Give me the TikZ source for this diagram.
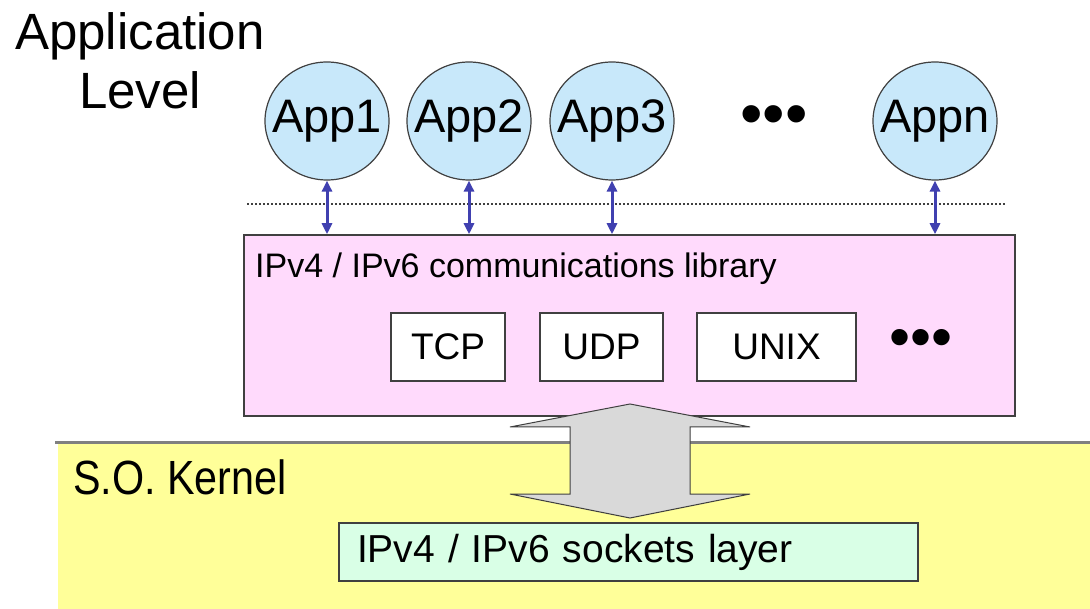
\documentclass[tikz,border=0pt]{standalone}
\usepackage{fontspec}
\usepackage{graphicx}
\setmainfont{Liberation Sans}
\usetikzlibrary{arrows.meta,shapes.geometric,calc}
\definecolor{appblue}{RGB}{200,232,250}
\definecolor{libpink}{RGB}{255,218,252}
\definecolor{kernyellow}{RGB}{255,255,153}
\definecolor{sockmint}{RGB}{217,255,230}
\definecolor{arrowgray}{RGB}{217,217,217}
\definecolor{linkblue}{RGB}{64,64,176}
\definecolor{edgegray}{RGB}{64,64,64}
\definecolor{sepgray}{RGB}{128,128,128}
\newcommand{\fsz}[1]{\fontsize{#1}{#1}\selectfont}
\begin{document}
\begin{tikzpicture}[x=1pt,y=-1pt,
  app/.style={ellipse, draw=edgegray, line width=1.2pt, fill=appblue,
    minimum width=124pt, minimum height=118pt, inner xsep=-13pt, inner ysep=0pt,
    font=\fsz{47}},
  protobox/.style={draw=edgegray, line width=1.5pt, fill=white,
    minimum height=68pt, inner sep=0pt, font=\fsz{37}},
  link/.style={linkblue, line width=3pt,
    {Triangle[length=11pt,width=10pt]}-{Triangle[length=11pt,width=10pt]}},
  plain/.style={inner sep=0pt},
  bigarrow/.style={draw=edgegray, line width=1pt, fill=arrowgray, line join=miter}
]
\useasboundingbox (0,0) rectangle (1090,609);
\fill[white] (0,0) rectangle (1090,609);

% kernel band
\fill[kernyellow] (58,443) rectangle (1090,609);
\draw[sepgray, line width=3pt] (55,443) -- (1090,443);

% application level labels
\node[plain, anchor=base, font=\fsz{51}] (applab) at (140,50) {Application};
\node[plain, anchor=base, font=\fsz{51}] (levlab) at (140,109) {Level};

% applications
\node[app] (a1) at (327,121) {App1};
\node[app] (a2) at (469,121) {App2};
\node[app] (a3) at (612,121) {App3};
\node[app] (an) at (935,121) {Appn};
\node[plain, font=\fsz{64}] (dotsa) at (774,121) {•••};

% separator
\draw[edgegray, line width=2pt, dash pattern=on 2pt off 2pt] (247,204) -- (1005,204);

% communications library
\node[draw=edgegray, line width=1.5pt, fill=libpink, minimum width=771pt,
  minimum height=181pt, inner sep=0pt] (lib) at (629.5,325.5) {};
\node[plain, anchor=base west, font=\fsz{34}] (liblab) at (255,278)
  {IPv4 / IPv6 communications library};

\node[protobox, minimum width=114pt] (tcp) at (448,347) {TCP};
\node[protobox, minimum width=123pt] (udp) at (601.5,347) {UDP};
\node[protobox, minimum width=159pt] (unix) at (776.5,347) {UNIX};
\node[plain, font=\fsz{60}] (dotsb) at (921,343) {•••};

% links
\foreach \a in {a1,a2,a3,an}
  \draw[link] (\a.south) -- (\a.south |- lib.north);

% kernel
\node[plain, anchor=base west, font=\fsz{48}] (kern) at (73,494)
  {\scalebox{0.86}[1]{S.O. Kernel}};

% big double arrow
\draw[bigarrow] (630,404) -- (750,427) -- (690,427) -- (690,494) -- (750,494)
  -- (630,518) -- (510,494) -- (570,494) -- (570,427) -- (510,427) -- cycle;

% sockets layer
\node[draw=edgegray, line width=2pt, fill=sockmint, minimum height=58pt,
  text width=543pt, inner xsep=18pt, inner ysep=0pt, align=left,
  font=\fsz{39}] (sock) at (628.5,552) {IPv4 / IPv6 sockets layer};
\end{tikzpicture}
\end{document}
